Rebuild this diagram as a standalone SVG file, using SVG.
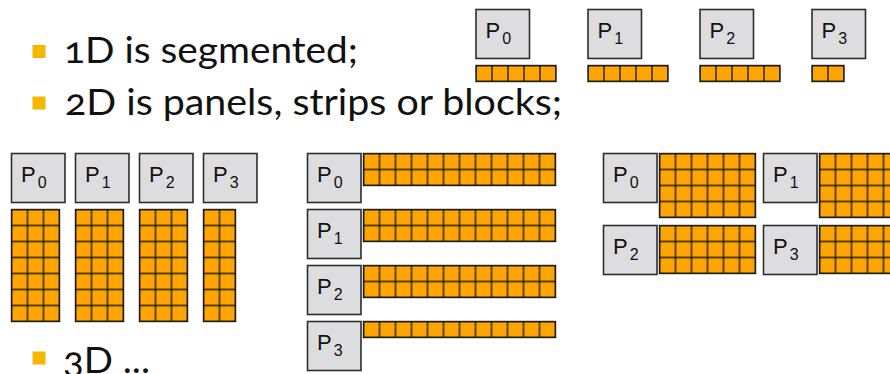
<svg xmlns="http://www.w3.org/2000/svg" width="890" height="374" viewBox="0 0 890 374">
<defs>
<pattern id="cells" width="16" height="16" patternUnits="userSpaceOnUse">
<rect width="16" height="16" fill="#FFA500"/>
<path d="M0 0V16M16 0V16M0 0H16M0 16H16" stroke="#1c1c1c" stroke-width="1.4" fill="none"/>
</pattern>
<style>
.bg{fill:#fff}
.box{fill:#DDDDDF;stroke:#2e2e2e;stroke-width:1.6}
.grid{fill:url(#cells);stroke:#1c1c1c;stroke-width:1.4}
.pl{font-family:"Liberation Sans",Arial,sans-serif;font-size:22px;fill:#111}
.sub{font-size:16px}
.bt{font-family:Lato,"Open Sans",sans-serif;font-size:37px;fill:#111;font-variant-numeric:oldstyle-nums;font-feature-settings:"onum" 1}
.bul{fill:#F5B800}
</style>
</defs>
<rect class="bg" width="890" height="374"/>

<g id="bullets">
<rect class="bul" x="32.5" y="45" width="13" height="13"/>
<text class="bt" x="64" y="63.3" textLength="294" lengthAdjust="spacingAndGlyphs">1D is segmented;</text>
<rect class="bul" x="32.5" y="96.5" width="13" height="13"/>
<text class="bt" x="65" y="115" textLength="497" lengthAdjust="spacingAndGlyphs">2D is panels, strips or blocks;</text>
<rect class="bul" x="32.5" y="351.5" width="13" height="13"/>
<text class="bt" x="63" y="372.5" textLength="87" lengthAdjust="spacingAndGlyphs">3D ...</text>
</g>

<!-- 1D segmented -->
<g id="seg-P0" transform="translate(476,9.5)">
<rect class="box" width="53.5" height="49"/>
<text class="pl" x="9.5" y="28.5">P<tspan class="sub" dx="2" dy="6">0</tspan></text>
<g transform="translate(0,56)"><rect class="grid" width="80" height="16"/></g>
</g>
<g id="seg-P1" transform="translate(588,9.5)">
<rect class="box" width="53.5" height="49"/>
<text class="pl" x="9.5" y="28.5">P<tspan class="sub" dx="2" dy="6">1</tspan></text>
<g transform="translate(0,56)"><rect class="grid" width="80" height="16"/></g>
</g>
<g id="seg-P2" transform="translate(700,9.5)">
<rect class="box" width="53.5" height="49"/>
<text class="pl" x="9.5" y="28.5">P<tspan class="sub" dx="2" dy="6">2</tspan></text>
<g transform="translate(0,56)"><rect class="grid" width="80" height="16"/></g>
</g>
<g id="seg-P3" transform="translate(812,9.5)">
<rect class="box" width="53.5" height="49"/>
<text class="pl" x="9.5" y="28.5">P<tspan class="sub" dx="2" dy="6">3</tspan></text>
<g transform="translate(0,56)"><rect class="grid" width="32" height="16"/></g>
</g>

<!-- 2D panels -->
<g id="pan-P0" transform="translate(11.5,153.5)">
<rect class="box" width="53.5" height="49"/>
<text class="pl" x="9.5" y="28.5">P<tspan class="sub" dx="2" dy="6">0</tspan></text>
<g transform="translate(0,56)"><rect class="grid" width="48" height="112"/></g>
</g>
<g id="pan-P1" transform="translate(75.5,153.5)">
<rect class="box" width="53.5" height="49"/>
<text class="pl" x="9.5" y="28.5">P<tspan class="sub" dx="2" dy="6">1</tspan></text>
<g transform="translate(0,56)"><rect class="grid" width="48" height="112"/></g>
</g>
<g id="pan-P2" transform="translate(139.5,153.5)">
<rect class="box" width="53.5" height="49"/>
<text class="pl" x="9.5" y="28.5">P<tspan class="sub" dx="2" dy="6">2</tspan></text>
<g transform="translate(0,56)"><rect class="grid" width="48" height="112"/></g>
</g>
<g id="pan-P3" transform="translate(203.5,153.5)">
<rect class="box" width="53.5" height="49"/>
<text class="pl" x="9.5" y="28.5">P<tspan class="sub" dx="2" dy="6">3</tspan></text>
<g transform="translate(0,56)"><rect class="grid" width="32" height="112"/></g>
</g>

<!-- 2D strips -->
<g id="str-P0" transform="translate(307.5,153.5)">
<rect class="box" width="53.5" height="49"/>
<text class="pl" x="9.5" y="28.5">P<tspan class="sub" dx="2" dy="6">0</tspan></text>
<g transform="translate(56,0)"><rect class="grid" width="192" height="32"/></g>
</g>
<g id="str-P1" transform="translate(307.5,209.5)">
<rect class="box" width="53.5" height="49"/>
<text class="pl" x="9.5" y="28.5">P<tspan class="sub" dx="2" dy="6">1</tspan></text>
<g transform="translate(56,0)"><rect class="grid" width="192" height="32"/></g>
</g>
<g id="str-P2" transform="translate(307.5,265.5)">
<rect class="box" width="53.5" height="49"/>
<text class="pl" x="9.5" y="28.5">P<tspan class="sub" dx="2" dy="6">2</tspan></text>
<g transform="translate(56,0)"><rect class="grid" width="192" height="32"/></g>
</g>
<g id="str-P3" transform="translate(307.5,321.5)">
<rect class="box" width="53.5" height="49"/>
<text class="pl" x="9.5" y="28.5">P<tspan class="sub" dx="2" dy="6">3</tspan></text>
<g transform="translate(56,0)"><rect class="grid" width="192" height="16"/></g>
</g>

<!-- 2D blocks -->
<g id="blk-P0" transform="translate(603.5,153.5)">
<rect class="box" width="53.5" height="49"/>
<text class="pl" x="9.5" y="28.5">P<tspan class="sub" dx="2" dy="6">0</tspan></text>
<g transform="translate(56,0)"><rect class="grid" width="96" height="64"/></g>
</g>
<g id="blk-P1" transform="translate(763.5,153.5)">
<rect class="box" width="53.5" height="49"/>
<text class="pl" x="9.5" y="28.5">P<tspan class="sub" dx="2" dy="6">1</tspan></text>
<g transform="translate(56,0)"><rect class="grid" width="96" height="64"/></g>
</g>
<g id="blk-P2" transform="translate(603.5,225.5)">
<rect class="box" width="53.5" height="49"/>
<text class="pl" x="9.5" y="28.5">P<tspan class="sub" dx="2" dy="6">2</tspan></text>
<g transform="translate(56,0)"><rect class="grid" width="96" height="48"/></g>
</g>
<g id="blk-P3" transform="translate(763.5,225.5)">
<rect class="box" width="53.5" height="49"/>
<text class="pl" x="9.5" y="28.5">P<tspan class="sub" dx="2" dy="6">3</tspan></text>
<g transform="translate(56,0)"><rect class="grid" width="96" height="48"/></g>
</g>

<g id="connectors"/>
</svg>
